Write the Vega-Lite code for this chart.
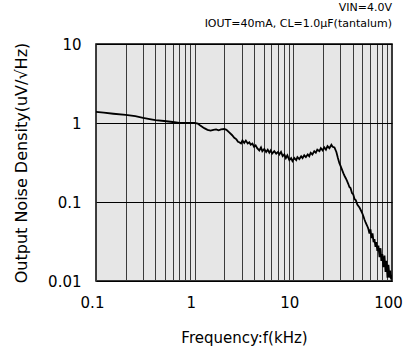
{
  "$schema": "https://vega.github.io/schema/vega-lite/v6.json",
  "width": 296,
  "height": 237,
  "autosize": {"type": "none"},
  "padding": {"left": 96, "top": 44, "right": 11, "bottom": 72},
  "background": "white",
  "config": {
    "font": "DejaVu Sans",
    "view": {"stroke": "black", "strokeWidth": 1.5, "fill": "#e6e6e6"}
  },
  "title": {
    "text": ["VIN=4.0V", "IOUT=40mA, CL=1.0µF(tantalum)"],
    "anchor": "end",
    "frame": "group",
    "fontSize": 11,
    "fontWeight": "normal",
    "lineHeight": 16,
    "offset": 8,
    "color": "black"
  },
  "data": {
    "values": [
      {"f": 0.1, "n": 1.38}, {"f": 0.12, "n": 1.35}, {"f": 0.15, "n": 1.31}, {"f": 0.2, "n": 1.27},
      {"f": 0.25, "n": 1.22}, {"f": 0.3, "n": 1.16}, {"f": 0.35, "n": 1.12}, {"f": 0.4, "n": 1.09},
      {"f": 0.49, "n": 1.06}, {"f": 0.6, "n": 1.03}, {"f": 0.7, "n": 1.0}, {"f": 0.85, "n": 1.0},
      {"f": 1.0, "n": 1.0}, {"f": 1.08, "n": 0.98}, {"f": 1.15, "n": 0.92}, {"f": 1.25, "n": 0.86},
      {"f": 1.35, "n": 0.82}, {"f": 1.45, "n": 0.8}, {"f": 1.55, "n": 0.82}, {"f": 1.65, "n": 0.83},
      {"f": 1.75, "n": 0.81}, {"f": 1.85, "n": 0.83}, {"f": 2.0, "n": 0.84}, {"f": 2.1, "n": 0.82},
      {"f": 2.24, "n": 0.76}, {"f": 2.4, "n": 0.7}, {"f": 2.52, "n": 0.65}, {"f": 2.65, "n": 0.62},
      {"f": 2.75, "n": 0.58}, {"f": 2.83, "n": 0.57}, {"f": 2.95, "n": 0.55}, {"f": 3.05, "n": 0.6},
      {"f": 3.18, "n": 0.56}, {"f": 3.3, "n": 0.6}, {"f": 3.45, "n": 0.55}, {"f": 3.58, "n": 0.57},
      {"f": 3.7, "n": 0.53}, {"f": 3.85, "n": 0.55}, {"f": 4.0, "n": 0.5}, {"f": 4.15, "n": 0.52},
      {"f": 4.3, "n": 0.48}, {"f": 4.52, "n": 0.45}, {"f": 4.7, "n": 0.49}, {"f": 4.85, "n": 0.44},
      {"f": 5.08, "n": 0.47}, {"f": 5.3, "n": 0.43}, {"f": 5.5, "n": 0.46}, {"f": 5.71, "n": 0.42},
      {"f": 5.9, "n": 0.45}, {"f": 6.1, "n": 0.41}, {"f": 6.41, "n": 0.44}, {"f": 6.7, "n": 0.41},
      {"f": 7.0, "n": 0.43}, {"f": 7.21, "n": 0.4}, {"f": 7.5, "n": 0.43}, {"f": 7.8, "n": 0.38},
      {"f": 8.11, "n": 0.4}, {"f": 8.4, "n": 0.36}, {"f": 8.7, "n": 0.39}, {"f": 9.11, "n": 0.34},
      {"f": 9.5, "n": 0.36}, {"f": 9.8, "n": 0.33}, {"f": 10.24, "n": 0.36}, {"f": 10.7, "n": 0.34},
      {"f": 11.0, "n": 0.37}, {"f": 11.5, "n": 0.35}, {"f": 12.0, "n": 0.38}, {"f": 12.4, "n": 0.36},
      {"f": 12.9, "n": 0.39}, {"f": 13.4, "n": 0.37}, {"f": 14.0, "n": 0.4}, {"f": 14.5, "n": 0.38},
      {"f": 15.0, "n": 0.42}, {"f": 15.6, "n": 0.4}, {"f": 16.3, "n": 0.44}, {"f": 16.9, "n": 0.42},
      {"f": 17.5, "n": 0.46}, {"f": 18.4, "n": 0.44}, {"f": 19.0, "n": 0.48}, {"f": 19.8, "n": 0.45},
      {"f": 20.6, "n": 0.49}, {"f": 21.4, "n": 0.46}, {"f": 22.2, "n": 0.51}, {"f": 23.2, "n": 0.48},
      {"f": 24.3, "n": 0.53}, {"f": 25.0, "n": 0.5}, {"f": 26.1, "n": 0.49}, {"f": 27.3, "n": 0.43},
      {"f": 28.3, "n": 0.36}, {"f": 29.3, "n": 0.31}, {"f": 30.3, "n": 0.28}, {"f": 31.4, "n": 0.25},
      {"f": 32.2, "n": 0.23}, {"f": 33.0, "n": 0.215}, {"f": 34.0, "n": 0.2}, {"f": 35.0, "n": 0.185},
      {"f": 36.0, "n": 0.17}, {"f": 37.0, "n": 0.155}, {"f": 38.0, "n": 0.15}, {"f": 39.3, "n": 0.13},
      {"f": 40.5, "n": 0.125}, {"f": 41.6, "n": 0.11}, {"f": 43.0, "n": 0.105}, {"f": 44.5, "n": 0.093},
      {"f": 46.8, "n": 0.085}, {"f": 48.5, "n": 0.078}, {"f": 50.0, "n": 0.072}, {"f": 51.3, "n": 0.066},
      {"f": 52.6, "n": 0.06}, {"f": 54.0, "n": 0.055}, {"f": 56.0, "n": 0.05}, {"f": 57.5, "n": 0.046},
      {"f": 59.1, "n": 0.04}, {"f": 60.5, "n": 0.045}, {"f": 62.0, "n": 0.035}, {"f": 63.5, "n": 0.04},
      {"f": 65.0, "n": 0.031}, {"f": 66.4, "n": 0.034}, {"f": 68.0, "n": 0.027}, {"f": 69.5, "n": 0.031},
      {"f": 71.0, "n": 0.024}, {"f": 72.8, "n": 0.028}, {"f": 74.7, "n": 0.02}, {"f": 76.5, "n": 0.026},
      {"f": 78.0, "n": 0.018}, {"f": 79.8, "n": 0.022}, {"f": 81.5, "n": 0.015}, {"f": 83.9, "n": 0.021},
      {"f": 86.0, "n": 0.013}, {"f": 88.0, "n": 0.018}, {"f": 90.0, "n": 0.011}, {"f": 92.0, "n": 0.016},
      {"f": 94.4, "n": 0.011}, {"f": 96.0, "n": 0.0135}, {"f": 98.0, "n": 0.0105}, {"f": 100, "n": 0.012}
    ]
  },
  "mark": {"type": "line", "color": "black", "strokeWidth": 1.8, "clip": true},
  "encoding": {
    "x": {
      "field": "f",
      "type": "quantitative",
      "scale": {"type": "log", "domain": [0.1, 100], "nice": false},
      "axis": {
        "title": "Frequency:f(kHz)",
        "values": [0.1, 0.2, 0.3, 0.4, 0.5, 0.6, 0.7, 0.8, 0.9, 1, 2, 3, 4, 5, 6, 7, 8, 9, 10, 20, 30, 40, 50, 60, 70, 80, 90, 100],
        "format": "~g",
        "labelExpr": "(datum.value == 0.1 || datum.value == 1 || datum.value == 10 || datum.value == 100) ? datum.label : ''",
        "labelOverlap": false,
        "labelFlush": false,
        "labelBound": false,
        "labelOffset": -4,
        "ticks": false,
        "domain": false,
        "grid": true,
        "gridColor": "#3a3a3a",
        "gridOpacity": 1,
        "gridWidth": 1,
        "labelFontSize": 15,
        "labelColor": "black",
        "labelPadding": 14,
        "titleFontSize": 15,
        "titleFontWeight": "normal",
        "titleColor": "black",
        "titlePadding": 20
      }
    },
    "y": {
      "field": "n",
      "type": "quantitative",
      "scale": {"type": "log", "domain": [0.01, 10], "nice": false},
      "axis": {
        "title": "Output Noise Density(uV/√Hz)",
        "values": [0.01, 0.1, 1, 10],
        "format": "~g",
        "labelOverlap": false,
        "labelBound": false,
        "labelFlush": false,
        "ticks": false,
        "domain": false,
        "grid": true,
        "gridColor": "black",
        "gridOpacity": 1,
        "gridWidth": 1,
        "labelFontSize": 15,
        "labelColor": "black",
        "labelPadding": 15,
        "titleFontSize": 16,
        "titleFontWeight": "normal",
        "titleColor": "black",
        "titlePadding": 18
      }
    }
  }
}
